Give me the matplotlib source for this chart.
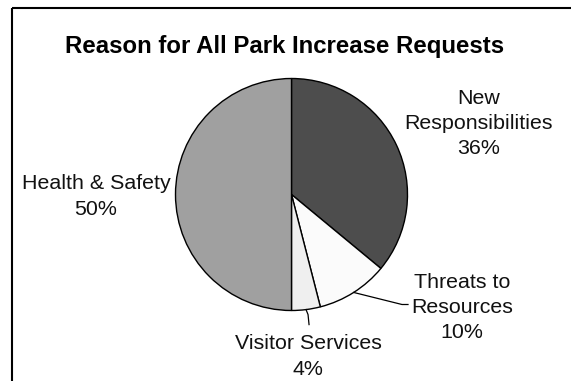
import numpy as np
import matplotlib
matplotlib.use("Agg")
import matplotlib.pyplot as plt

title = "Reason for All Park Increase Requests"
categories = ["New\nResponsibilities", "Threats to\nResources", "Visitor Services", "Health & Safety"]
values = [36, 10, 4, 50]
colors = ["#4d4d4d", "#fbfbfb", "#efefef", "#a0a0a0"]

W, H = 571, 381
fig = plt.figure(figsize=(W / 100, H / 100), dpi=100)
ax = fig.add_axes([0, 0, 1, 1])
ax.set_xlim(0, W)
ax.set_ylim(0, H)
ax.set_aspect("equal")
ax.axis("off")

cx, cy, r = 291.5, H - 194.5, 116
wedges, _ = ax.pie(values, colors=colors, startangle=90, counterclock=False,
                   center=(cx, cy), radius=r,
                   wedgeprops=dict(edgecolor="black", linewidth=1.0))
ax.set_xlim(0, W)
ax.set_ylim(0, H)

font = "Liberation Sans"
ax.text(285, H - 47, title, ha="center", va="center", fontsize=17.3,
        fontweight="bold", family=font)

pct = [f"{v}%" for v in values]
label_pos = [(479, H - 123.5), (462, H - 307.5), (308, H - 356.5), (96, H - 196.5)]
for name, p, (x, y) in zip(categories, pct, label_pos):
    ax.text(x, y, f"{name}\n{p}", ha="center", va="center", fontsize=15.4,
            family=font, linespacing=1.42, color="#111111")

# leader lines
def edge_point(w):
    a = np.deg2rad((w.theta1 + w.theta2) / 2)
    return cx + r * np.cos(a), cy + r * np.sin(a)

x0, y0 = edge_point(wedges[1])
ax.plot([x0, 402, 408], [y0, H - 304.5, H - 304.5], color="black", lw=0.9)
x0, y0 = edge_point(wedges[2])
ax.plot([x0, x0 + 2, x0 + 3], [y0, y0 - 5, y0 - 15], color="black", lw=0.9)

# frame
ax.plot([11.5, 11.5], [-2, H - 8], color="black", lw=1.5, solid_capstyle="butt")
ax.plot([11.5, W + 2], [H - 8, H - 8], color="black", lw=1.5, solid_capstyle="butt")

fig.savefig("out.png", dpi=100)
